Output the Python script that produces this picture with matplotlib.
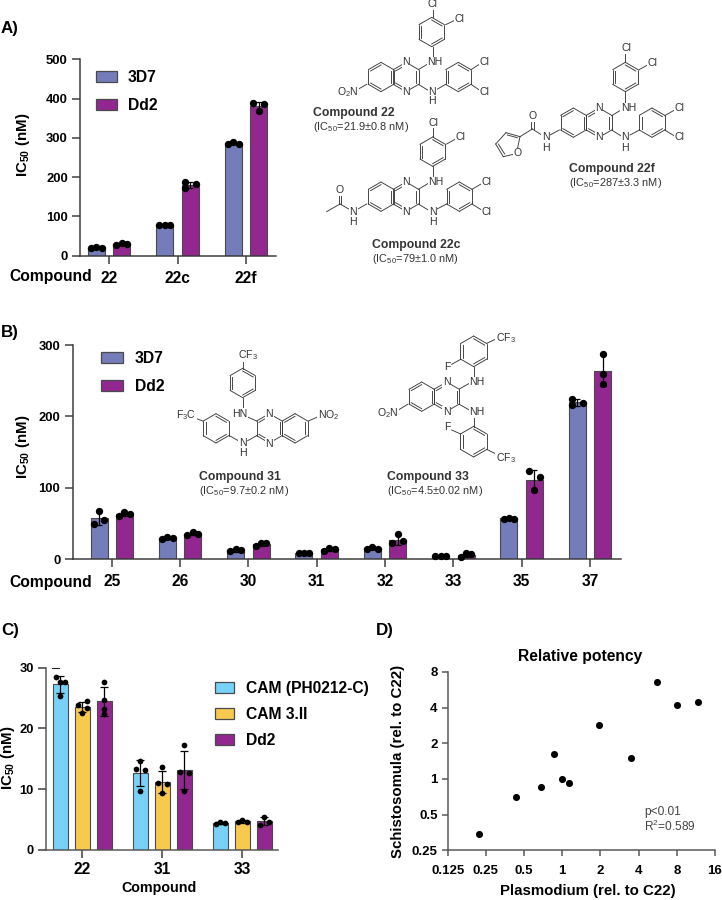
import numpy as np
import matplotlib
matplotlib.use("Agg")
import matplotlib.pyplot as plt
from matplotlib.patches import Patch

plt.rcParams.update({
    'font.family': ['Liberation Sans', 'DejaVu Sans'],
    'mathtext.fontset': 'custom',
    'mathtext.rm': 'Liberation Sans',
    'mathtext.it': 'Liberation Sans:italic',
    'mathtext.bf': 'Liberation Sans:bold',
    'mathtext.default': 'regular',
})

# ---------- data ----------
a_compounds = ['22', '22c', '22f']
a_3d7 = [[20.4, 22, 20.4], [78, 79, 78], [284, 290, 285]]
a_dd2 = [[27, 33, 31], [188, 172, 182], [389, 369, 385]]

b_compounds = ['25', '26', '30', '31', '32', '33', '35', '37']
b_3d7 = [[49.5, 68, 55], [29, 31, 29.4], [11, 15, 12.6], [9, 9.3, 9],
         [15, 17.3, 15], [4, 4.5, 4.2], [57, 58, 57], [225, 215.6, 219]]
b_dd2 = [[60, 66, 64], [34, 38, 36], [18.7, 23, 22.4], [12, 16.3, 14],
         [22.4, 35.5, 25], [3.3, 8.4, 7.5], [123, 97, 115], [288, 259.5, 245.4]]

c_compounds = ['22', '31', '33']
c_ph0212 = [[28.4, 27.7, 27.7, 25.3], [13.4, 14.6, 13.1, 9.7], [4.2, 4.55, 4.4]]
c_cam3 = [[23.9, 24.5, 23.4, 22.5], [13.65, 11.1, 10.9, 9.3], [4.55, 5.0, 4.66]]
c_dd2 = [[27.6, 24.7, 23.2, 22.3], [17.3, 12.8, 12.6, 9.7], [4.1, 5.4, 4.6]]

d_plasmodium = [0.22, 0.43, 0.68, 0.856, 1.0, 1.14, 1.96, 3.46, 5.58, 8.1, 11.75]
d_schisto = [0.34, 0.70, 0.86, 1.64, 1.0, 0.93, 2.86, 1.50, 6.59, 4.18, 4.44]

# horizontal spread of the replicate dots (in dot-spacing units)
a_spread = {('Dd2', 1): [-1, -1, 1], ('Dd2', 2): [-1, 0, 1]}
b_spread = {('3D7', 7): [-1, -1, 1], ('Dd2', 7): [0, 0, 0]}
c_spread = {
    (0, 0): [-1, 0, 1, 0], (1, 0): [-1, 1, 1, 0], (2, 0): [0, 0, 0, 0],
    (0, 1): [-1, 0, 1, 0], (1, 1): [0, -1, 1, 0], (2, 1): [0, -1, 1, 0],
}

# ---------- style ----------
C3D7 = '#747CBA'
CDD2 = '#92278F'
CBLUE = '#78D2F7'
CYELL = '#F8C94F'
EDGE = '#4a4a4a'
AXC = '#3a3a3a'
W, H = 722, 900
PT = 0.72

fig = plt.figure(figsize=(W / 100, H / 100), dpi=100, facecolor='white')
ov = fig.add_axes([0, 0, 1, 1], zorder=10)
ov.set_xlim(0, W)
ov.set_ylim(H, 0)
ov.axis('off')
ov.patch.set_alpha(0)


def px_axes(l, t, r, b):
    ax = fig.add_axes([l / W, 1 - b / H, (r - l) / W, (b - t) / H])
    for s in ('top', 'right'):
        ax.spines[s].set_visible(False)
    for s in ('left', 'bottom'):
        ax.spines[s].set_linewidth(1.5 * PT)
        ax.spines[s].set_color(AXC)
    ax.patch.set_alpha(0)
    return ax


def bars(ax, x, vals, color, width, spread, spacing, dot_s, cap):
    m = np.mean(vals)
    s = np.std(vals, ddof=1)
    ax.bar(x, m, width=width, color=color, edgecolor=EDGE, linewidth=0.8, zorder=2)
    ax.errorbar(x, m, yerr=s, fmt='none', ecolor='black', elinewidth=0.9,
                capsize=cap, capthick=0.9, zorder=3, clip_on=False)
    ax.scatter(x + np.array(spread) * spacing, vals, s=dot_s, color='black',
               linewidths=0, zorder=4, clip_on=False)


def legend(ax, colors, labels, x, top, fpx, w, h, pitch, gap):
    handles = [Patch(facecolor=c, edgecolor=EDGE, linewidth=0.9) for c in colors]
    ax.legend(handles, labels, loc='upper left', bbox_to_anchor=(x / W, 1 - top / H),
              bbox_transform=fig.transFigure, frameon=False, borderpad=0, borderaxespad=0,
              prop={'size': fpx * PT, 'weight': 'bold'}, handlelength=w / fpx,
              handleheight=h / fpx, handletextpad=gap / fpx,
              labelspacing=(pitch - fpx * 0.93) / fpx)


TICK = 8 * PT
LW = 1.5 * PT


def two_strain(ax, comps, s1, s2, l, r, t0, sp, ymax, yt, spreads, lab_pad):
    ax.set_xlim((l - t0) / sp, (r - t0) / sp)
    ax.set_ylim(0, ymax)
    ax.set_yticks(yt)
    ax.set_xticks(range(len(comps)))
    ax.set_xticklabels(comps, fontsize=15.6 * PT, fontweight='bold')
    ax.tick_params(axis='y', length=TICK, width=LW, color=AXC, labelsize=13 * PT, pad=3)
    ax.tick_params(axis='x', length=TICK, width=LW, color=AXC, pad=lab_pad)
    for lb in ax.get_yticklabels():
        lb.set_fontweight('bold')
    off = 12.7 / sp
    bw = 17 / sp
    dsp = 5.4 / sp
    for i in range(len(comps)):
        bars(ax, i - off, s1[i], C3D7, bw, spreads.get(('3D7', i), [-1, 0, 1]), dsp, 28, 2.4)
        bars(ax, i + off, s2[i], CDD2, bw, spreads.get(('Dd2', i), [-1, 0, 1]), dsp, 28, 2.4)


# ---------- panel A ----------
axA = px_axes(80, 59.3, 275.7, 255.7)
two_strain(axA, a_compounds, a_3d7, a_dd2, 80, 275.7, 109, 68.5, 500,
           [0, 100, 200, 300, 400, 500], a_spread, 5)
axA.set_ylabel(r'IC$_{\mathbf{50}}$ (nM)', fontsize=15 * PT, fontweight='bold')
axA.yaxis.set_label_coords(32, 145, transform=ov.transData)
legend(axA, [C3D7, CDD2], ['3D7', 'Dd2'], 95.7, 70, 15.8, 21, 11, 27.7, 11)
ov.text(9, 276, 'Compound', fontsize=15.6 * PT, fontweight='bold', va='center', ha='left')

# ---------- panel B ----------
axB = px_axes(72.5, 345, 620.7, 559.3)
two_strain(axB, b_compounds, b_3d7, b_dd2, 72.5, 620.7, 111.7, 68.33, 300,
           [0, 100, 200, 300], b_spread, 5)
axB.set_ylabel(r'IC$_{\mathbf{50}}$ (nM)', fontsize=15 * PT, fontweight='bold')
axB.yaxis.set_label_coords(32, 447, transform=ov.transData)
legend(axB, [C3D7, CDD2], ['3D7', 'Dd2'], 101, 351, 15.8, 21.5, 11, 27.7, 12)
ov.text(9, 582, 'Compound', fontsize=15.6 * PT, fontweight='bold', va='center', ha='left')

# ---------- panel C ----------
axC = px_axes(46, 667.7, 278, 850)
sp = 80.0
axC.set_xlim((46 - 82.3) / sp, (278 - 82.3) / sp)
axC.set_ylim(0, 30)
axC.set_yticks([0, 10, 20, 30])
axC.set_xticks(range(3))
axC.set_xticklabels(c_compounds, fontsize=15.6 * PT, fontweight='bold')
axC.tick_params(axis='y', length=TICK, width=LW, color=AXC, labelsize=12.9 * PT, pad=3)
axC.tick_params(axis='x', length=TICK, width=LW, color=AXC, pad=3)
for lb in axC.get_yticklabels():
    lb.set_fontweight('bold')
for s in ('left', 'bottom'):
    axC.spines[s].set_color('#555555')
for j, (series, col) in enumerate([(c_ph0212, CBLUE), (c_cam3, CYELL), (c_dd2, CDD2)]):
    for i in range(3):
        spr = c_spread.get((j, i), [-1, 0, 1])
        bars(axC, i + (j - 1) * 22 / sp, series[i], col, 14.7 / sp, spr, 4.7 / sp, 17, 2.6)
axC.set_ylabel(r'IC$_{\mathbf{50}}$ (nM)', fontsize=15 * PT, fontweight='bold')
axC.yaxis.set_label_coords(17, 758, transform=ov.transData)
axC.set_xlabel('Compound', fontsize=14.3 * PT, fontweight='bold')
axC.xaxis.set_label_coords(159, 881, transform=ov.transData)
legend(axC, [CBLUE, CYELL, CDD2], ['CAM (PH0212-C)', 'CAM 3.II', 'Dd2'],
       215, 681, 15.6, 19.3, 11, 25.7, 11.7)
ov.plot([51.7, 59], [667.7, 667.7], color='#222222', lw=0.8)

# ---------- panel D ----------
axD = px_axes(447.7, 672, 715, 850.3)
axD.set_xscale('log', base=2)
axD.set_yscale('log', base=2)
axD.set_xlim(0.125, 16)
axD.set_ylim(0.25, 8)
xt = [0.125, 0.25, 0.5, 1, 2, 4, 8, 16]
yt = [0.25, 0.5, 1, 2, 4, 8]
axD.set_xticks(xt)
axD.set_xticklabels(['0.125', '0.25', '0.5', '1', '2', '4', '8', '16'])
axD.set_yticks(yt)
axD.set_yticklabels(['0.25', '0.5', '1', '2', '4', '8'])
axD.minorticks_off()
axD.tick_params(length=6 * PT, width=LW, color='#555555', labelsize=13.3 * PT, pad=3)
axD.tick_params(axis='x', pad=6)
for lb in axD.get_xticklabels() + axD.get_yticklabels():
    lb.set_fontweight('bold')
for s in ('left', 'bottom'):
    axD.spines[s].set_color('#555555')
axD.scatter(d_plasmodium, d_schisto, s=26, color='black', linewidths=0, zorder=3)
axD.set_xlabel('Plasmodium (rel. to C22)', fontsize=15 * PT, fontweight='bold')
axD.xaxis.set_label_coords(587.7, 884, transform=ov.transData)
axD.set_ylabel('Schistosomula (rel. to C22)', fontsize=15 * PT, fontweight='bold')
axD.yaxis.set_label_coords(405, 761.7, transform=ov.transData)
ov.text(580, 657, 'Relative potency', fontsize=15.6 * PT, fontweight='bold', ha='center', va='center')
ov.text(644.5, 811.5, 'p<0.01', fontsize=11.9 * PT, color='#444444', va='center')
ov.text(644.5, 826, 'R$^{2}$=0.589', fontsize=11.9 * PT, color='#444444', va='center')

# ---------- panel letters ----------
for txt, x, y in [('A)', 1, 29), ('B)', 1, 333), ('C)', 1, 630), ('D)', 376, 630)]:
    ov.text(x, y, txt, fontsize=17 * PT, fontweight='bold', va='center', ha='left')

# ---------- chemical structures (annotation drawings) ----------
MC = '#3a3a3a'
MLW = 0.65


def mol(ox, oy, rings=(), bonds=(), doubles=(), labels=(), fs=10.5):
    z = lambda x, y: (ox + x / 3, oy + y / 3)
    for cx, cy, r, dbl in rings:
        c = np.array(z(cx, cy))
        rr = r / 3
        ang = np.radians([90 - 60 * k for k in range(6)])
        v = np.c_[c[0] + rr * np.cos(ang), c[1] - rr * np.sin(ang)]
        for k in range(6):
            a, b = v[k], v[(k + 1) % 6]
            ov.plot([a[0], b[0]], [a[1], b[1]], color=MC, lw=MLW, solid_capstyle='round')
            if k in dbl:
                a2 = c + (a - c) * 0.82 + (b - a) * 0.0
                b2 = c + (b - c) * 0.82
                ov.plot([a2[0], b2[0]], [a2[1], b2[1]], color=MC, lw=MLW)
    for x1, y1, x2, y2 in list(bonds) + list(doubles):
        p, q = z(x1, y1), z(x2, y2)
        ov.plot([p[0], q[0]], [p[1], q[1]], color=MC, lw=MLW)
    for t, x, y in labels:
        p = z(x, y)
        ov.text(p[0], p[1], t, fontsize=fs * PT, color='#333333', ha='center', va='center',
                bbox=dict(facecolor='white', edgecolor='none', pad=0.4), zorder=6)


def caption(x, y1, y2, name, ic):
    ov.text(x, y1, name, fontsize=12.3 * PT, fontweight='bold', color='#333333', va='center', ha='left', zorder=7)
    ov.text(x, y2, ic, fontsize=11 * PT, color='#333333', va='center', ha='left', zorder=7)


R = 44
QDB = (1, 3, 5)
PDB = (0, 2, 4)

# Compound 22
mol(300, 0,
    rings=[(395, 96, R, PDB), (243, 231, R, QDB), (318, 231, R, QDB), (475, 231, R, PDB)],
    bonds=[(398, 52, 398, 26), (437, 74, 462, 62), (398, 140, 398, 172), (355, 209, 385, 191),
           (355, 253, 383, 270), (411, 268, 437, 253), (513, 209, 538, 193), (513, 253, 538, 270),
           (200, 253, 172, 269)],
    labels=[('Cl', 398, 12), ('Cl', 477, 57), ('N', 318, 187), ('N', 318, 275), ('NH', 405, 187),
            ('N', 397, 275), ('H', 397, 303), ('Cl', 553, 187), ('Cl', 553, 275), ('O$_2$N', 143, 276)])
caption(312.7, 113.3, 127, 'Compound 22', r'(IC$_{50}$=21.9±0.8 nM)')

# Compound 22c
mol(300, 0,
    rings=[(398, 455, R, PDB), (243, 590, R, QDB), (318, 590, R, QDB), (478, 590, R, PDB)],
    bonds=[(398, 412, 398, 385), (440, 432, 465, 418), (398, 498, 398, 533), (355, 568, 385, 550),
           (355, 612, 383, 629), (411, 627, 440, 612), (516, 568, 543, 552), (516, 612, 543, 629),
           (200, 612, 172, 628), (148, 628, 120, 612), (120, 612, 80, 635)],
    doubles=[(116, 612, 116, 585), (124, 612, 124, 585)],
    labels=[('Cl', 400, 368), ('Cl', 480, 412), ('N', 318, 547), ('N', 318, 635), ('NH', 408, 547),
            ('N', 398, 635), ('H', 398, 665), ('Cl', 560, 547), ('Cl', 560, 635),
            ('N', 160, 637), ('H', 160, 665), ('O', 120, 570)])
caption(371.7, 245, 258.5, 'Compound 22c', r'(IC$_{50}$=79±1.0 nM)')

# Compound 22f
mol(300, 0,
    rings=[(976, 231, R, PDB), (820, 368, R, QDB), (897, 368, R, QDB), (1056, 368, R, PDB)],
    bonds=[(975, 187, 975, 160), (1017, 209, 1043, 195), (975, 275, 975, 310), (935, 347, 963, 330),
           (935, 390, 962, 407), (990, 405, 1018, 390), (1094, 347, 1122, 331), (1094, 390, 1122, 407),
           (778, 390, 750, 405), (725, 405, 697, 387), (697, 387, 660, 410),
           (660, 410, 618, 398), (618, 398, 587, 432), (587, 432, 610, 470), (610, 470, 640, 463),
           (660, 410, 652, 448)],
    doubles=[(693, 387, 693, 362), (701, 387, 701, 362), (652, 413, 622, 405), (595, 432, 614, 462)],
    labels=[('Cl', 978, 145), ('Cl', 1058, 190), ('N', 897, 325), ('N', 897, 412), ('NH', 985, 325),
            ('N', 975, 412), ('H', 975, 445), ('Cl', 1138, 325), ('Cl', 1138, 412),
            ('N', 737, 412), ('H', 737, 445), ('O', 697, 348), ('O', 652, 460)])
caption(568.7, 169, 182.5, 'Compound 22f', r'(IC$_{50}$=287±3.3 nM)')

# Compound 31
mol(0, 320,
    rings=[(728, 189, R, PDB), (808, 325, R, QDB), (885, 325, R, QDB), (648, 325, R, PDB)],
    bonds=[(728, 146, 728, 120), (728, 233, 728, 265), (745, 292, 770, 303), (770, 347, 743, 362),
           (688, 347, 715, 362), (575, 290, 608, 303), (925, 303, 955, 290)],
    labels=[('CF$_3$', 745, 105), ('HN', 720, 282), ('N', 808, 283), ('N', 808, 372), ('N', 728, 370),
            ('H', 728, 400), ('F$_3$C', 558, 285), ('NO$_2$', 985, 285)])
caption(198.7, 477.3, 491, 'Compound 31', r'(IC$_{50}$=9.7±0.2 nM)')

# Compound 33
mol(360, 320,
    rings=[(341, 94, 46, PDB), (185, 230, R, QDB), (260, 230, R, QDB), (341, 365, 46, PDB)],
    bonds=[(143, 253, 115, 270), (298, 207, 328, 190), (342, 172, 342, 140), (302, 118, 275, 133),
           (380, 70, 408, 57), (298, 253, 328, 270), (342, 292, 342, 320), (302, 342, 275, 330),
           (380, 388, 408, 402)],
    labels=[('O$_2$N', 82, 278), ('N', 260, 187), ('N', 260, 275), ('NH', 350, 187), ('NH', 350, 277),
            ('F', 262, 142), ('F', 262, 322), ('CF$_3$', 437, 53), ('CF$_3$', 437, 413)])
caption(386.7, 477.3, 491, 'Compound 33', r'(IC$_{50}$=4.5±0.02 nM)')

fig.savefig('out.png', dpi=100, facecolor='white')
